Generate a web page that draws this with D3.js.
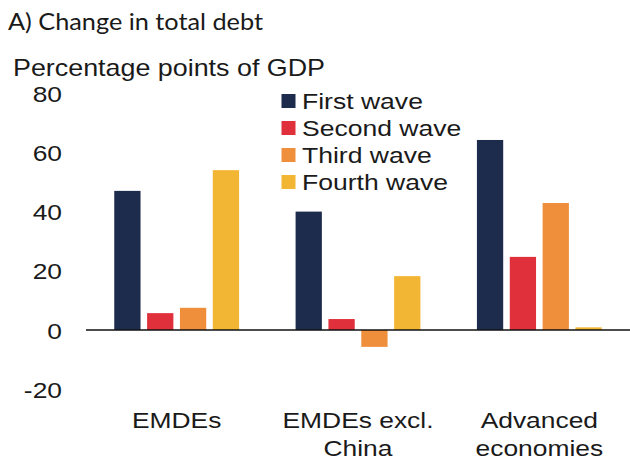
<!DOCTYPE html>
<html><head><meta charset="utf-8">
<script src="https://cdn.jsdelivr.net/npm/d3@7"></script>
<style>body{margin:0;background:#fff}svg{display:block}</style>
</head><body>
<script>
const categories = [["EMDEs"], ["EMDEs excl.", "China"], ["Advanced", "economies"]];
const categoryKeys = ["EMDEs", "EMDEs excl. China", "Advanced economies"];
const seriesNames = ["First wave", "Second wave", "Third wave", "Fourth wave"];
const firstWave  = [47.0, 40.0, 64.2];
const secondWave = [5.7, 3.7, 24.7];
const thirdWave  = [7.5, -5.7, 42.9];
const fourthWave = [54.0, 18.2, 0.9];
const yTicks = [80, 60, 40, 20, 0, -20];
const colors = ["#1d2c4c", "#e0303b", "#ef8f3c", "#f3b634"];
const title = "A) Change in total debt";
const yTitle = "Percentage points of GDP";

const seriesValues = [firstWave, secondWave, thirdWave, fourthWave];
const W = 630, H = 464;
const sans = "'Liberation Sans', Arial, sans-serif";

const svg = d3.select("body").append("svg").attr("width", W).attr("height", H);

const y = d3.scaleLinear().domain([-20, 80]).range([389.2, 93.2]);
const x0 = d3.scaleBand().domain(categoryKeys).range([86, 630]).padding(0);
const x1 = d3.scaleBand().domain(seriesNames).range([0, x0.bandwidth()]).paddingInner(0.2).paddingOuter(0.86);

function stretchedText(g, x, yy, txt, size, anchor, sx) {
  return g.append("text")
    .attr("transform", `translate(${x},${yy}) scale(${sx},1)`)
    .attr("text-anchor", anchor)
    .attr("font-family", sans)
    .attr("font-size", size)
    .attr("fill", "#1a1a1a")
    .text(txt);
}

// title
svg.append("text").attr("x", 8).attr("y", 29.5)
  .attr("font-family", "'Gill Sans', 'Gill Sans MT', Lato, sans-serif")
  .attr("font-size", 23).attr("fill", "#1a1a1a")
  .attr("textLength", 255).attr("lengthAdjust", "spacingAndGlyphs")
  .text(title);

// y title
svg.append("text").attr("x", 13).attr("y", 76)
  .attr("font-family", sans).attr("font-size", 24).attr("fill", "#1a1a1a")
  .attr("textLength", 312).attr("lengthAdjust", "spacingAndGlyphs")
  .text(yTitle);

// y tick labels
const yAxisG = svg.append("g");
yTicks.forEach(t => {
  stretchedText(yAxisG, 62, y(t) + 1, t, 22, "end", 1.2).attr("dominant-baseline", "central");
});

// bars
const groups = svg.append("g").selectAll("g").data(categoryKeys).join("g")
  .attr("transform", d => `translate(${x0(d)},0)`);
groups.selectAll("rect")
  .data((d, i) => seriesNames.map((s, j) => ({s, j, v: seriesValues[j][i]})))
  .join("rect")
  .attr("x", d => x1(d.s))
  .attr("width", x1.bandwidth())
  .attr("y", d => y(Math.max(0, d.v)))
  .attr("height", d => Math.abs(y(d.v) - y(0)))
  .attr("fill", d => colors[d.j]);

// zero line
svg.append("line").attr("x1", 86).attr("x2", 630).attr("y1", y(0)).attr("y2", y(0))
  .attr("stroke", "#111").attr("stroke-width", 1.5);

// category labels
const catG = svg.append("g");
categoryKeys.forEach((k, i) => {
  const cx = x0(k) + x0.bandwidth() / 2;
  categories[i].forEach((line, li) => {
    stretchedText(catG, cx, 428 + li * 28, line, 22, "middle", 1.2);
  });
});

// legend
const leg = svg.append("g");
seriesNames.forEach((s, i) => {
  const ly = 101 + i * 27;
  leg.append("rect").attr("x", 281.5).attr("y", ly - 7).attr("width", 14).attr("height", 14).attr("fill", colors[i]);
  stretchedText(leg, 302, ly, s, 21.5, "start", 1.235).attr("dominant-baseline", "central");
});
</script>
</body></html>
